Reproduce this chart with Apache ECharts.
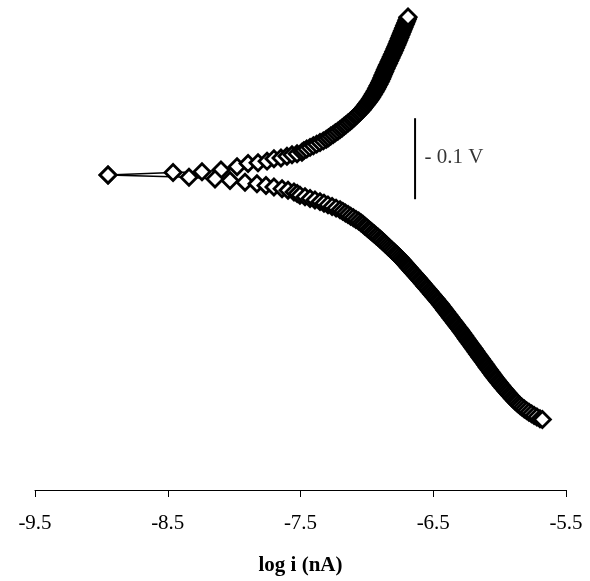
<!DOCTYPE html>
<html>
<head>
<meta charset="utf-8">
<script src="https://cdn.jsdelivr.net/npm/echarts@6/dist/echarts.min.js"></script>
<style>
html,body{margin:0;padding:0;background:#fff}
#main{width:590px;height:581px}
</style>
</head>
<body>
<div id="main"></div>
<script>
// x ticks (log i)
var xTicks=[-9.5,-8.5,-7.5,-6.5,-5.5];
// [log i, E (V vs Ecorr)] anodic branch
var anodic=[[-8.950,0],[-8.460,0.003],[-8.242,0.004],[-8.099,0.006],[-7.978,0.010],[-7.895,0.014],[-7.820,0.015],
[-7.752,0.017],[-7.700,0.020],[-7.647,0.021],[-7.602,0.023],[-7.564,0.025],[-7.526,0.026],[-7.489,0.028],
[-7.475,0.030],[-7.453,0.032],[-7.428,0.034],[-7.403,0.036],[-7.378,0.038],[-7.353,0.040],[-7.328,0.042],
[-7.306,0.044],[-7.289,0.046],[-7.272,0.048],[-7.254,0.050],[-7.237,0.052],[-7.219,0.054],[-7.202,0.056],
[-7.187,0.058],[-7.172,0.060],[-7.157,0.062],[-7.142,0.064],[-7.127,0.066],[-7.112,0.068],[-7.100,0.070],
[-7.087,0.072],[-7.075,0.074],[-7.062,0.076],[-7.050,0.078],[-7.037,0.080],[-7.028,0.082],[-7.018,0.084],
[-7.009,0.086],[-7.000,0.088],[-6.990,0.090],[-6.981,0.092],[-6.972,0.094],[-6.965,0.096],[-6.957,0.098],
[-6.950,0.100],[-6.942,0.102],[-6.935,0.104],[-6.928,0.106],[-6.922,0.108],[-6.916,0.110],[-6.909,0.112],
[-6.903,0.114],[-6.897,0.116],[-6.891,0.118],[-6.886,0.120],[-6.881,0.122],[-6.876,0.124],[-6.870,0.126],
[-6.865,0.128],[-6.860,0.130],[-6.854,0.132],[-6.849,0.134],[-6.843,0.136],[-6.837,0.138],[-6.832,0.140],
[-6.826,0.142],[-6.820,0.144],[-6.815,0.146],[-6.809,0.148],[-6.803,0.150],[-6.798,0.152],[-6.792,0.154],
[-6.787,0.156],[-6.782,0.158],[-6.776,0.160],[-6.771,0.162],[-6.766,0.164],[-6.761,0.166],[-6.756,0.168],
[-6.751,0.170],[-6.746,0.172],[-6.741,0.174],[-6.736,0.176],[-6.731,0.178],[-6.726,0.180],[-6.721,0.182],
[-6.716,0.184],[-6.711,0.186],[-6.706,0.188],[-6.701,0.190],[-6.696,0.192],[-6.692,0.194],[-6.690,0.195]];
// cathodic branch
var cathodic=[[-8.950,0],[-8.340,-0.003],[-8.144,-0.005],[-8.031,-0.007],[-7.918,-0.009],[-7.828,-0.011],
[-7.760,-0.013],[-7.700,-0.015],[-7.639,-0.017],[-7.594,-0.019],[-7.549,-0.021],[-7.525,-0.023],
[-7.504,-0.025],[-7.466,-0.027],[-7.428,-0.029],[-7.391,-0.031],[-7.353,-0.033],[-7.323,-0.035],[-7.293,-0.037],
[-7.262,-0.039],[-7.232,-0.041],[-7.202,-0.043],[-7.182,-0.045],[-7.162,-0.047],[-7.142,-0.049],[-7.122,-0.051],
[-7.102,-0.053],[-7.082,-0.055],[-7.062,-0.057],[-7.045,-0.059],[-7.030,-0.061],[-7.016,-0.063],[-7.002,-0.065],
[-6.987,-0.067],[-6.973,-0.069],[-6.958,-0.071],[-6.944,-0.073],[-6.930,-0.075],[-6.915,-0.077],[-6.901,-0.079],
[-6.888,-0.081],[-6.875,-0.083],[-6.862,-0.085],[-6.849,-0.087],[-6.837,-0.089],[-6.824,-0.091],[-6.811,-0.093],
[-6.798,-0.095],[-6.785,-0.097],[-6.772,-0.099],[-6.760,-0.101],[-6.747,-0.103],[-6.736,-0.105],[-6.725,-0.107],
[-6.714,-0.109],[-6.703,-0.111],[-6.693,-0.113],[-6.682,-0.115],[-6.671,-0.117],[-6.660,-0.119],[-6.649,-0.121],
[-6.638,-0.123],[-6.627,-0.125],[-6.616,-0.127],[-6.605,-0.129],[-6.595,-0.131],[-6.584,-0.133],[-6.574,-0.135],
[-6.564,-0.137],[-6.553,-0.139],[-6.543,-0.141],[-6.532,-0.143],[-6.522,-0.145],[-6.512,-0.147],[-6.501,-0.149],
[-6.491,-0.151],[-6.480,-0.153],[-6.470,-0.155],[-6.460,-0.157],[-6.449,-0.159],[-6.440,-0.161],[-6.430,-0.163],
[-6.421,-0.165],[-6.412,-0.167],[-6.402,-0.169],[-6.393,-0.171],[-6.383,-0.173],[-6.374,-0.175],[-6.365,-0.177],
[-6.355,-0.179],[-6.346,-0.181],[-6.336,-0.183],[-6.327,-0.185],[-6.318,-0.187],[-6.308,-0.189],[-6.299,-0.191],
[-6.290,-0.193],[-6.281,-0.195],[-6.272,-0.197],[-6.263,-0.199],[-6.255,-0.201],[-6.246,-0.203],[-6.237,-0.205],
[-6.228,-0.207],[-6.219,-0.209],[-6.210,-0.211],[-6.201,-0.213],[-6.192,-0.215],[-6.183,-0.217],[-6.175,-0.219],
[-6.166,-0.221],[-6.157,-0.223],[-6.148,-0.225],[-6.139,-0.227],[-6.130,-0.229],[-6.121,-0.231],[-6.112,-0.233],
[-6.103,-0.235],[-6.095,-0.237],[-6.086,-0.239],[-6.077,-0.241],[-6.068,-0.243],[-6.059,-0.245],[-6.050,-0.247],
[-6.041,-0.249],[-6.031,-0.251],[-6.022,-0.253],[-6.012,-0.255],[-6.002,-0.257],[-5.992,-0.259],[-5.982,-0.261],
[-5.972,-0.263],[-5.961,-0.265],[-5.951,-0.267],[-5.940,-0.269],[-5.929,-0.271],[-5.918,-0.273],[-5.907,-0.275],
[-5.896,-0.277],[-5.884,-0.279],[-5.872,-0.281],[-5.859,-0.283],[-5.845,-0.285],[-5.830,-0.287],[-5.814,-0.289],
[-5.797,-0.291],[-5.779,-0.293],[-5.760,-0.295],[-5.740,-0.297],[-5.719,-0.299],[-5.696,-0.301],[-5.678,-0.302]];
// 0.1 V scale bar
var barX=-6.637;
var barE=[0.070,-0.030];
var barLabelE=0.021;

var myChart=echarts.init(document.getElementById('main'));
var font='"Liberation Serif","Times New Roman",serif';

function branch(data){
    return {
        type:'line',
        data:data,
        symbol:'diamond',
        symbolSize:16,
        showAllSymbol:true,
        itemStyle:{color:'#fff',borderColor:'#000',borderWidth:2.8},
        lineStyle:{color:'#000',width:1.5},
        emphasis:{disabled:true}
    };
}

myChart.setOption({
    animation:false,
    grid:{left:35,right:24,top:4,bottom:91},
    xAxis:{
        type:'value',min:-9.5,max:-5.5,
        name:'log i (nA)',nameLocation:'middle',nameGap:65,
        nameTextStyle:{fontFamily:font,fontSize:21,fontWeight:'bold',color:'#000'},
        axisLine:{onZero:false,lineStyle:{color:'#000',width:1}},
        axisTick:{length:7,lineStyle:{color:'#000'},customValues:xTicks},
        axisLabel:{margin:23,fontFamily:font,fontSize:21,color:'#000',customValues:xTicks,
            formatter:function(v){return v.toFixed(1);}},
        splitLine:{show:false}
    },
    yAxis:{type:'value',min:-0.389,max:0.211,show:false,splitLine:{show:false}},
    series:[
        branch(anodic),
        branch(cathodic),
        {
            type:'line',
            data:barE.map(function(e){return [barX,e];}),
            symbol:'none',
            lineStyle:{color:'#000',width:2},
            emphasis:{disabled:true}
        },
        {
            type:'scatter',
            data:[[barX,barLabelE]],
            symbolSize:1,
            itemStyle:{color:'rgba(0,0,0,0)'},
            label:{show:true,position:'right',distance:9,formatter:'- 0.1 V',
                fontFamily:font,fontSize:21,color:'#000'},
            emphasis:{disabled:true}
        }
    ]
});
</script>
</body>
</html>
